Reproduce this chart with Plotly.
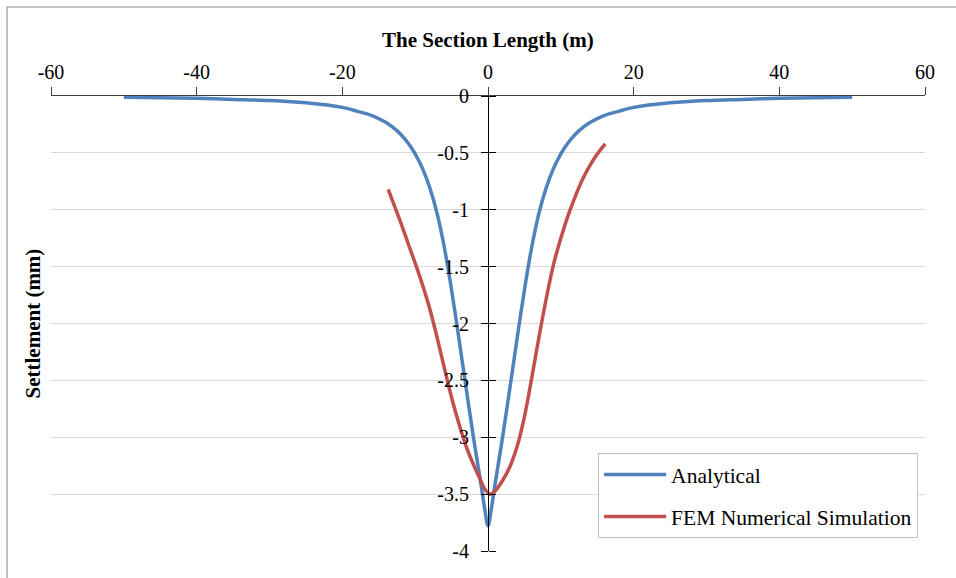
import plotly.graph_objects as go

# ---- data ----
analytical_x = [-50, -45, -40, -35, -30, -25, -20, -18, -16, -14, -13, -12, -11, -10, -9, -8, -7, -6,
                -5, -4, -3, -2, -1, -0.5, 0,
                0.5, 1, 2, 3, 4, 5, 6, 7, 8, 9, 10, 11, 12, 13, 14, 16, 18, 20, 25, 30, 35,
                40, 45, 50]
analytical_y = [-0.012, -0.016, -0.02, -0.03, -0.04, -0.06, -0.10, -0.133, -0.17, -0.234, -0.279,
                -0.336, -0.411, -0.508, -0.636, -0.804, -1.029, -1.33, -1.705, -2.13, -2.57, -3.00,
                -3.40, -3.61, -3.78,
                -3.61, -3.40, -3.00, -2.57, -2.13, -1.705, -1.33, -1.029, -0.804, -0.636, -0.508,
                -0.411, -0.336, -0.279, -0.234, -0.17, -0.133, -0.10, -0.06, -0.04, -0.03, -0.02,
                -0.016, -0.012]

fem_x = [-13.7, -13, -12, -11, -10, -9, -8, -7, -6, -5, -4, -3, -2, -1, -0.5, 0, 0.3, 1, 2, 3, 4,
         5, 6, 7, 8, 9, 10, 11, 12, 13, 14, 15, 16.1]
fem_y = [-0.82, -0.94, -1.11, -1.29, -1.47, -1.66, -1.87, -2.12, -2.39, -2.65, -2.88, -3.08, -3.24,
         -3.38, -3.45, -3.49, -3.50, -3.47, -3.38, -3.26, -3.08, -2.82, -2.48, -2.12, -1.78, -1.48,
         -1.25, -1.05, -0.88, -0.73, -0.61, -0.51, -0.42]

x_ticks = [-60, -40, -20, 0, 20, 40, 60]
x_tick_labels = ["-60", "-40", "-20", "0", "20", "40", "60"]
y_ticks = [0, -0.5, -1, -1.5, -2, -2.5, -3, -3.5, -4]
y_tick_labels = ["0", "-0.5", "-1", "-1.5", "-2", "-2.5", "-3", "-3.5", "-4"]

series_names = ["Analytical", "FEM Numerical Simulation"]
colors = ["#4F81BD", "#C0504D"]

FONT = "Liberation Serif, Times New Roman, serif"

fig = go.Figure()
fig.add_trace(go.Scatter(x=analytical_x, y=analytical_y, mode="lines", name=series_names[0],
                         line=dict(color=colors[0], width=3.5, shape="spline", smoothing=0.9),
                         legendgroup="a"))
fig.add_trace(go.Scatter(x=fem_x, y=fem_y, mode="lines", name=series_names[1],
                         line=dict(color=colors[1], width=3.5, shape="spline", smoothing=1.0),
                         legendgroup="b"))
# helper trace so the right half of the crossing y ticks is drawn
fig.add_trace(go.Scatter(x=[None], y=[None], yaxis="y2", showlegend=False, hoverinfo="skip"))

fig.update_layout(
    width=956, height=578,
    margin=dict(l=51, r=31, t=96, b=27),
    paper_bgcolor="white", plot_bgcolor="white",
    font=dict(family=FONT, size=20, color="black"),
    xaxis=dict(range=[-60, 60], side="top", tickvals=x_ticks, ticktext=x_tick_labels,
               showgrid=False, zeroline=False, showline=True, linecolor="#404040", linewidth=1,
               ticks="outside", ticklen=8, tickcolor="#404040", tickwidth=1,
               tickfont=dict(size=20)),
    yaxis=dict(range=[-4, 0], anchor="free", position=0.5, tickvals=y_ticks, ticktext=y_tick_labels,
               showgrid=True, gridcolor="#D9D9D9", gridwidth=1, zeroline=False,
               showline=True, linecolor="#000000", linewidth=1,
               ticks="outside", ticklen=7, tickcolor="#000000", tickwidth=1,
               tickfont=dict(size=20), ticklabelstandoff=8),
    yaxis2=dict(range=[-4, 0], overlaying="y", anchor="free", position=0.5, side="right",
                tickvals=y_ticks, showticklabels=False, showgrid=False, zeroline=False,
                showline=False, ticks="outside", ticklen=7, tickcolor="#000000", tickwidth=1),
    legend=dict(x=0.626, y=0.2154, xanchor="left", yanchor="top", bgcolor="white",
                bordercolor="#BFBFBF", borderwidth=1, font=dict(size=21.5),
                traceorder="grouped", tracegroupgap=11, itemwidth=62),
    showlegend=True,
    annotations=[
        dict(text="<b>The Section Length (m)</b>", xref="paper", yref="paper", x=0.5, y=1.123,
             xanchor="center", yanchor="middle", showarrow=False, font=dict(size=21)),
        dict(text="<b>Settlement (mm)</b>", xref="paper", yref="paper", x=-0.0206, y=0.5,
             xanchor="center", yanchor="middle", textangle=-90, showarrow=False,
             font=dict(size=21)),
    ],
    shapes=[dict(type="rect", xref="paper", yref="paper", x0=-0.0503, x1=1.3, y0=-0.5, y1=1.1956,
                 line=dict(color="#868686", width=1), layer="below")],
)

fig.write_html("out.html")
